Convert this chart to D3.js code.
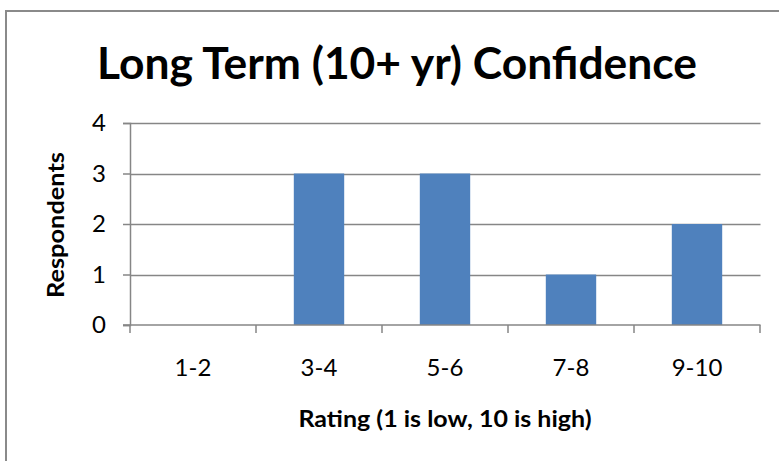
<!DOCTYPE html>
<html>
<head>
<meta charset="utf-8">
<script src="https://cdn.jsdelivr.net/npm/d3@7"></script>
<style>
  html, body { margin: 0; padding: 0; background: #fff; }
  svg { display: block; }
</style>
</head>
<body>
<script>
const categories = ["1-2", "3-4", "5-6", "7-8", "9-10"];
const respondents = [0, 3, 3, 1, 2];
const yTicks = [0, 1, 2, 3, 4];
const titleText = "Long Term (10+ yr) Confidence";
const xTitleText = "Rating (1 is low, 10 is high)";
const yTitleText = "Respondents";

const W = 779, H = 461;
const font = "Lato, 'Open Sans', sans-serif";
const gray = "#868686";

const svg = d3.select("body").append("svg").attr("width", W).attr("height", H);
svg.append("rect").attr("width", W).attr("height", H).attr("fill", "#fff");

// outer chart border (extends past the right/bottom edges)
svg.append("rect").attr("x", 6).attr("y", 11).attr("width", 820).attr("height", 500)
  .attr("fill", "none").attr("stroke", "#8a8a8a").attr("stroke-width", 2);

const plot = { left: 130, right: 760, top: 123, bottom: 325 };

const x = d3.scaleBand().domain(categories).range([plot.left, plot.right]).padding(0);
const xBar = d3.scaleBand().domain(categories).range([plot.left, plot.right])
  .paddingInner(0.6).paddingOuter(0.3);
const y = d3.scaleLinear().domain([0, 4]).range([plot.bottom, plot.top]);

// gridlines
svg.append("g").selectAll("line").data(yTicks.filter(d => d > 0)).join("line")
  .attr("x1", plot.left).attr("x2", plot.right + 0.5)
  .attr("y1", d => Math.round(y(d)) + 0.5).attr("y2", d => Math.round(y(d)) + 0.5)
  .attr("stroke", gray).attr("stroke-width", 1.3);

// bars
svg.append("g").selectAll("rect").data(categories).join("rect")
  .attr("x", d => xBar(d)).attr("width", xBar.bandwidth())
  .attr("y", (d, i) => y(respondents[i]))
  .attr("height", (d, i) => y(0) - y(respondents[i]))
  .attr("fill", "#4F81BD");

// y axis
const yAxis = svg.append("g").attr("transform", `translate(${plot.left},0)`)
  .call(d3.axisLeft(y).tickValues(yTicks).tickSize(7).tickPadding(8).tickFormat(d3.format("d")));
yAxis.select(".domain").attr("stroke", gray).attr("stroke-width", 1.5);
yAxis.selectAll(".tick line").attr("stroke", gray).attr("stroke-width", 1.5);
yAxis.selectAll(".tick text").attr("font-family", font).attr("font-size", 24).attr("fill", "#000")
  .attr("x", -24);

// x axis: ticks at category boundaries
const xAxisG = svg.append("g").attr("transform", `translate(0,${plot.bottom})`);
xAxisG.append("line").attr("x1", plot.left - 7).attr("x2", plot.right + 0.5)
  .attr("y1", 0).attr("y2", 0).attr("stroke", gray).attr("stroke-width", 1.5);
const boundaries = categories.map(c => x(c)).concat([plot.right]);
xAxisG.selectAll("line.tk").data(boundaries).join("line").attr("class", "tk")
  .attr("x1", d => d).attr("x2", d => d).attr("y1", 0).attr("y2", 8)
  .attr("stroke", gray).attr("stroke-width", 1.5);
xAxisG.selectAll("text").data(categories).join("text")
  .attr("x", d => x(d) + x.bandwidth() / 2).attr("y", 51)
  .attr("text-anchor", "middle").attr("font-family", font).attr("font-size", 24)
  .attr("fill", "#000").text(d => d);

// title
svg.append("text").attr("x", 397).attr("y", 79).attr("text-anchor", "middle")
  .attr("font-family", font).attr("font-weight", "bold").attr("font-size", 44)
  .attr("textLength", 600).attr("lengthAdjust", "spacingAndGlyphs")
  .attr("fill", "#000").text(titleText);

// x title
svg.append("text").attr("x", 445).attr("y", 427).attr("text-anchor", "middle")
  .attr("font-family", font).attr("font-weight", "bold").attr("font-size", 22)
  .attr("textLength", 293).attr("lengthAdjust", "spacingAndGlyphs")
  .attr("fill", "#000").text(xTitleText);

// y title
svg.append("text").attr("transform", "translate(64,225) rotate(-90)")
  .attr("text-anchor", "middle")
  .attr("font-family", font).attr("font-weight", "bold").attr("font-size", 22)
  .attr("textLength", 146).attr("lengthAdjust", "spacingAndGlyphs")
  .attr("fill", "#000").text(yTitleText);
</script>
</body>
</html>
